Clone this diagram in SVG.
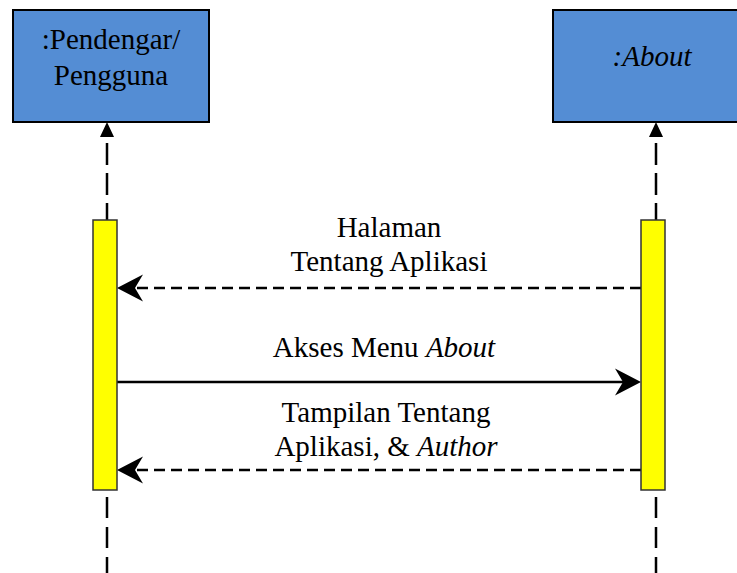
<svg xmlns="http://www.w3.org/2000/svg" width="737" height="573" viewBox="0 0 737 573">
  <style>
    .box { fill: #548DD4; stroke: #000; stroke-width: 2; }
    .act { fill: #FFFF00; stroke: #333; stroke-width: 1.5; }
    .life { stroke: #000; stroke-width: 2.5; fill: none; }
    .msg { stroke: #000; stroke-width: 2.5; fill: none; }
    .dash { stroke-dasharray: 11 6; }
    .t { font-family: 'Liberation Serif', Tinos, 'Times New Roman', Times, 'DejaVu Serif', serif; font-size: 29px; fill: #000; text-anchor: middle; }
    .it { font-style: italic; }
  </style>

  <g id="connectors">
    <g id="lifeline-left">
      <path d="M107,122 L100,137 L114,137 Z" fill="#000"/>
      <path class="life" d="M107,143 V220" stroke-dasharray="22 8"/>
      <path class="life" d="M107,497 V573" stroke-dasharray="21 9"/>
    </g>
    <g id="lifeline-right">
      <path d="M656,122 L649,137 L663,137 Z" fill="#000"/>
      <path class="life" d="M656,143 V220" stroke-dasharray="22 8"/>
      <path class="life" d="M656,497 V573" stroke-dasharray="21 9"/>
    </g>
    <g id="msg1">
      <path class="msg dash" d="M641,288 H135"/>
      <path d="M117,288 L143,274.5 L135,288 L143,301.5 Z" fill="#000"/>
    </g>
    <g id="msg2">
      <path class="msg" d="M117,382 H623"/>
      <path d="M641,382 L615,368.5 L623,382 L615,395.5 Z" fill="#000"/>
    </g>
    <g id="msg3">
      <path class="msg dash" d="M641,470 H135"/>
      <path d="M117,470 L143,456.5 L135,470 L143,483.5 Z" fill="#000"/>
    </g>
  </g>

  <g id="node-pengguna">
    <rect class="box" x="13" y="10" width="196" height="112"/>
    <text class="t" x="111" y="49" font-family="Liberation Serif, serif">:Pendengar/</text>
    <text class="t" x="111" y="85" font-family="Liberation Serif, serif">Pengguna</text>
  </g>
  <g id="node-about">
    <rect class="box" x="553" y="10" width="197" height="112"/>
    <text class="t it" x="652" y="66">:About</text>
  </g>

  <g id="activation-left">
    <rect class="act" x="93" y="220" width="24" height="270"/>
  </g>
  <g id="activation-right">
    <rect class="act" x="641" y="220" width="24" height="270"/>
  </g>

  <g id="labels">
    <text class="t" x="389" y="237">Halaman</text>
    <text class="t" x="389" y="271">Tentang Aplikasi</text>
    <text class="t" x="384" y="357">Akses Menu <tspan class="it">About</tspan></text>
    <text class="t" x="386" y="422">Tampilan Tentang</text>
    <text class="t" x="386" y="456">Aplikasi, &amp; <tspan class="it">Author</tspan></text>
  </g>
</svg>
